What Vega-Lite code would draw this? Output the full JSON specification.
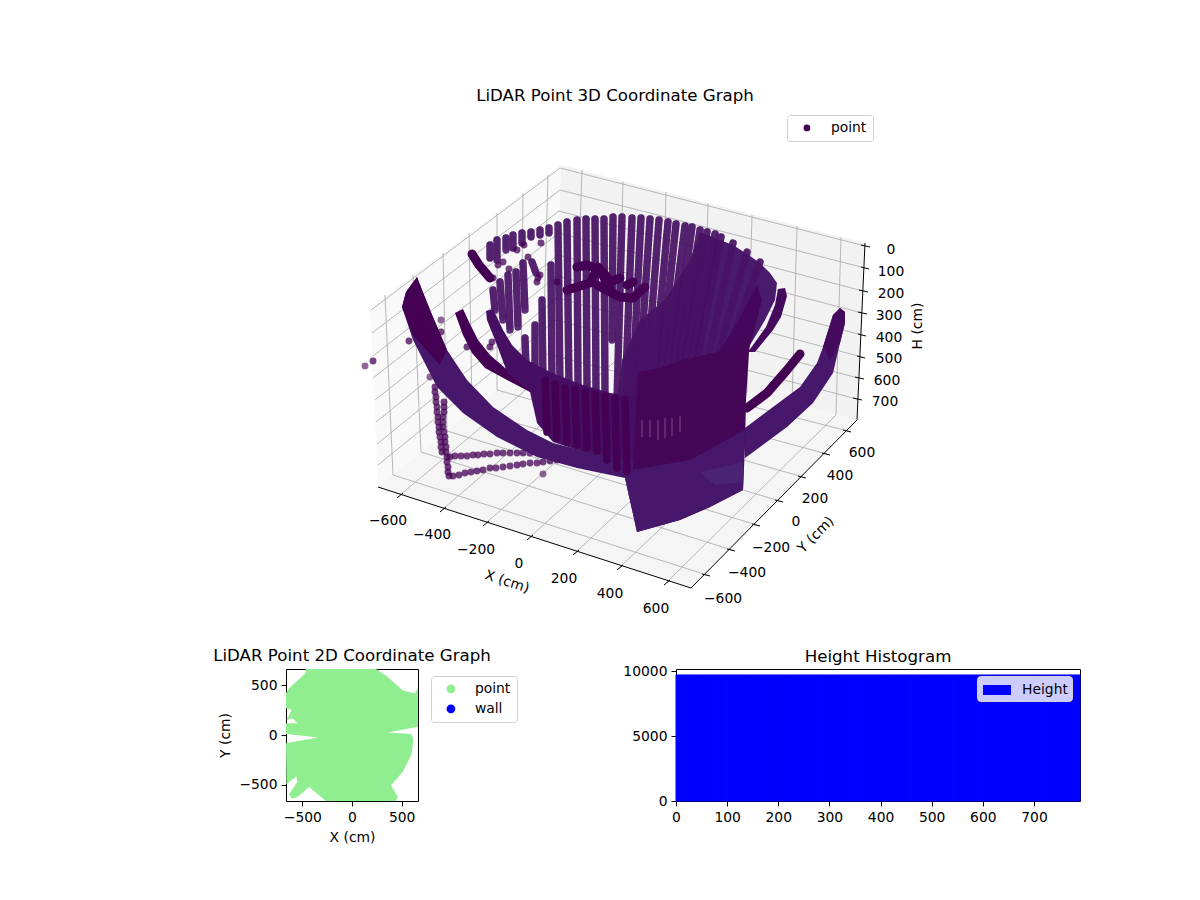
{
  "$schema": "https://vega.github.io/schema/vega-lite/v6.json",
  "background": "white",
  "padding": 0,
  "spacing": 0,
  "bounds": "flush",
  "resolve": {"scale": {"color": "independent", "fill": "independent"}, "legend": {"color": "independent"}},
  "config": {
    "font": "DejaVu Sans",
    "view": {"stroke": null},
    "title": {"font": "DejaVu Sans", "fontSize": 16.67, "fontWeight": "normal", "color": "black"},
    "axis": {"grid": false, "domain": false, "labelFontSize": 13.89, "titleFontSize": 13.89, "titleFontWeight": "normal", "labelColor": "black", "titleColor": "black", "tickColor": "black", "tickSize": 5, "tickWidth": 1, "labelPadding": 4, "labelFlush": false, "labelOverlap": false, "titlePadding": 7},
    "legend": {"labelFontSize": 13.89, "labelColor": "black", "title": null}
  },
  "datasets": {
    "columns": [
      {"c":1,"h":558,"v":225},{"c":1,"h":560,"v":385},{"c":2,"h":567,"v":222},{"c":2,"h":569,"v":388},{"c":3,"h":577,"v":220},{"c":3,"h":578,"v":390},
      {"c":4,"h":586,"v":219},{"c":4,"h":587,"v":392},{"c":5,"h":595,"v":219},{"c":5,"h":596,"v":393},{"c":6,"h":604,"v":219},{"c":6,"h":605,"v":395},
      {"c":7,"h":613,"v":217},{"c":7,"h":612,"v":340},{"c":8,"h":622,"v":217},{"c":8,"h":617,"v":400},{"c":9,"h":632,"v":218},{"c":9,"h":625,"v":400},
      {"c":10,"h":641,"v":218},{"c":10,"h":632,"v":400},{"c":11,"h":650,"v":219},{"c":11,"h":638,"v":400},{"c":12,"h":659,"v":220},{"c":12,"h":645,"v":400},
      {"c":13,"h":668,"v":222},{"c":13,"h":652,"v":400},{"c":14,"h":676,"v":224},{"c":14,"h":658,"v":395},{"c":15,"h":685,"v":226},{"c":15,"h":664,"v":390},
      {"c":16,"h":692,"v":227},{"c":16,"h":670,"v":388},{"c":17,"h":700,"v":230},{"c":17,"h":676,"v":385},{"c":18,"h":707,"v":232},{"c":18,"h":682,"v":382},
      {"c":19,"h":715,"v":234},{"c":19,"h":688,"v":380},{"c":20,"h":721,"v":237},{"c":20,"h":694,"v":378},{"c":21,"h":733,"v":243},{"c":21,"h":705,"v":372},
      {"c":22,"h":747,"v":252},{"c":22,"h":715,"v":365},{"c":23,"h":760,"v":262},{"c":23,"h":725,"v":360},
      {"c":30,"h":490,"v":245},{"c":30,"h":490,"v":258},{"c":31,"h":497,"v":240},{"c":31,"h":497,"v":260},{"c":32,"h":506,"v":238},{"c":32,"h":506,"v":250},
      {"c":33,"h":513,"v":235},{"c":33,"h":513,"v":248},{"c":34,"h":522,"v":233},{"c":34,"h":522,"v":243},{"c":35,"h":531,"v":232},{"c":35,"h":531,"v":237},
      {"c":36,"h":540,"v":230},{"c":36,"h":540,"v":235},{"c":37,"h":549,"v":228},{"c":37,"h":549,"v":233},
      {"c":40,"h":493,"v":290},{"c":40,"h":495,"v":310},{"c":41,"h":500,"v":282},{"c":41,"h":503,"v":320},{"c":42,"h":508,"v":275},{"c":42,"h":510,"v":330},
      {"c":43,"h":516,"v":272},{"c":43,"h":518,"v":327},{"c":44,"h":523,"v":263},{"c":44,"h":525,"v":310},{"c":45,"h":532,"v":262},{"c":45,"h":536,"v":273},
      {"c":46,"h":542,"v":300},{"c":46,"h":543,"v":385},{"c":47,"h":535,"v":325},{"c":47,"h":535,"v":370},{"c":48,"h":525,"v":338},{"c":48,"h":526,"v":365},
      {"c":49,"h":551,"v":265},{"c":49,"h":552,"v":385}
    ]
  },
  "vconcat": [
    {
      "width": 1200,
      "height": 669,
      "encoding": {
        "x": {"field": "h", "type": "quantitative", "axis": null, "scale": {"domain": [0, 1200], "nice": false, "zero": false}},
        "y": {"field": "v", "type": "quantitative", "axis": null, "scale": {"domain": [669, 0], "nice": false, "zero": false}}
      },
      "layer": [
        {
          "data": {"values": [
            {"s":"paneL","h":370,"v":307},{"s":"paneL","h":561,"v":165},{"s":"paneL","h":555,"v":343},{"s":"paneL","h":378,"v":487},
            {"s":"paneB","h":561,"v":165},{"s":"paneB","h":864,"v":243},{"s":"paneB","h":857,"v":420},{"s":"paneB","h":555,"v":343},
            {"s":"floor","h":378,"v":487},{"s":"floor","h":555,"v":343},{"s":"floor","h":857,"v":420},{"s":"floor","h":691,"v":588}
          ]},
          "mark": {"type": "line", "filled": true},
          "encoding": {
            "order": {"value": null},
            "fill": {"field": "s", "type": "nominal", "legend": null, "scale": {"domain": ["paneL","paneB","floor","bowl","A","B","C","D","E","F","G","H","top","low","spot"], "range": ["#f9f9f9","#f2f2f2","#f5f5f5","#4a1b6d","#440154","#470f63","#47176b","#440154","#47176b","#440a5e","#45075c","#440a5e","#450658","#47176b","#4a2373"]}}
          }
        },
        {
          "data": {"values": [
            {"h":400,"v":495,"h2":576,"v2":348},{"h":443,"v":509,"h2":618,"v2":359},{"h":486,"v":523,"h2":661,"v2":370},{"h":530,"v":537,"h2":703,"v2":381},{"h":576,"v":552,"h2":747,"v2":392},{"h":620,"v":567,"h2":792,"v2":404},{"h":667,"v":582,"h2":836,"v2":415},
            {"h":707,"v":575,"h2":393,"v2":475},{"h":732,"v":550,"h2":421,"v2":452},{"h":757,"v":525,"h2":447,"v2":431},{"h":780,"v":501,"h2":472,"v2":410},{"h":803,"v":477,"h2":497,"v2":390},{"h":827,"v":454,"h2":521,"v2":371},{"h":848,"v":431,"h2":543,"v2":353},
            {"h":385,"v":295,"h2":393,"v2":475},{"h":413,"v":275,"h2":421,"v2":452},{"h":443,"v":253,"h2":447,"v2":431},{"h":469,"v":233,"h2":472,"v2":410},{"h":497,"v":213,"h2":497,"v2":390},{"h":523,"v":193,"h2":521,"v2":371},{"h":548,"v":175,"h2":543,"v2":353},
            {"h":582,"v":170,"h2":576,"v2":348},{"h":623,"v":182,"h2":618,"v2":359},{"h":666,"v":192,"h2":661,"v2":370},{"h":708,"v":203,"h2":703,"v2":381},{"h":752,"v":215,"h2":747,"v2":392},{"h":797,"v":226,"h2":792,"v2":404},{"h":841,"v":237,"h2":836,"v2":415},
            {"h":560,"v":168,"h2":865,"v2":246},{"h":560,"v":190,"h2":865,"v2":268},{"h":559,"v":211,"h2":863,"v2":291},{"h":559,"v":233,"h2":862,"v2":313},{"h":558,"v":255,"h2":862,"v2":335},{"h":557,"v":276,"h2":862,"v2":357},{"h":557,"v":298,"h2":858,"v2":378},{"h":556,"v":320,"h2":857,"v2":399},
            {"h":560,"v":168,"h2":371,"v2":310},{"h":560,"v":190,"h2":372,"v2":333},{"h":559,"v":211,"h2":373,"v2":356},{"h":559,"v":233,"h2":373,"v2":378},{"h":558,"v":255,"h2":375,"v2":400},{"h":557,"v":276,"h2":376,"v2":422},{"h":557,"v":298,"h2":377,"v2":444},{"h":556,"v":320,"h2":378,"v2":465}
          ]},
          "mark": {"type": "rule", "color": "#b0b0b0", "strokeWidth": 0.9},
          "encoding": {"x2": {"field": "h2"}, "y2": {"field": "v2"}}
        },
        {
          "data": {"values": [
            {"h":378,"v":487,"h2":691,"v2":588},{"h":691,"v":588,"h2":857,"v2":420},{"h":865,"v":243,"h2":857,"v2":420},
            {"h":397,"v":498,"h2":403,"v2":493},{"h":440,"v":512,"h2":446,"v2":507},{"h":483,"v":526,"h2":489,"v2":521},{"h":527,"v":540,"h2":533,"v2":535},{"h":573,"v":555,"h2":579,"v2":550},{"h":617,"v":570,"h2":623,"v2":565},{"h":664,"v":585,"h2":670,"v2":580},
            {"h":702,"v":574,"h2":710,"v2":576},{"h":727,"v":549,"h2":735,"v2":551},{"h":752,"v":524,"h2":760,"v2":526},{"h":775,"v":500,"h2":783,"v2":502},{"h":798,"v":476,"h2":806,"v2":478},{"h":822,"v":453,"h2":830,"v2":455},{"h":843,"v":430,"h2":851,"v2":432},
            {"h":861,"v":245,"h2":870,"v2":247},{"h":861,"v":267,"h2":869,"v2":269},{"h":859,"v":290,"h2":868,"v2":292},{"h":858,"v":312,"h2":867,"v2":314},{"h":858,"v":334,"h2":866,"v2":336},{"h":857,"v":356,"h2":865,"v2":358},{"h":855,"v":377,"h2":864,"v2":379},{"h":853,"v":398,"h2":862,"v2":400}
          ]},
          "mark": {"type": "rule", "color": "black", "strokeWidth": 1},
          "encoding": {"x2": {"field": "h2"}, "y2": {"field": "v2"}}
        },
        {
          "data": {"values": [
            {"s":"bowl","h":700,"v":232},{"s":"bowl","h":720,"v":240},{"s":"bowl","h":733,"v":245},{"s":"bowl","h":747,"v":254},{"s":"bowl","h":760,"v":263},{"s":"bowl","h":770,"v":273},{"s":"bowl","h":777,"v":283},{"s":"bowl","h":775,"v":300},{"s":"bowl","h":765,"v":320},{"s":"bowl","h":750,"v":345},{"s":"bowl","h":745,"v":375},{"s":"bowl","h":640,"v":405},{"s":"bowl","h":617,"v":400},{"s":"bowl","h":622,"v":360},{"s":"bowl","h":640,"v":320},{"s":"bowl","h":665,"v":300},{"s":"bowl","h":690,"v":260}
          ]},
          "mark": {"type": "line", "filled": true},
          "encoding": {
            "order": {"value": null},
            "fill": {"field": "s", "type": "nominal", "legend": null, "scale": {"domain": ["paneL","paneB","floor","bowl","A","B","C","D","E","F","G","H","top","low","spot"], "range": ["#f9f9f9","#f2f2f2","#f5f5f5","#4a1b6d","#440154","#470f63","#47176b","#440154","#47176b","#440a5e","#45075c","#440a5e","#450658","#47176b","#4a2373"]}}
          }
        },
        {
          "data": {"name": "columns"},
          "mark": {"type": "line", "color": "#4a1b6d", "opacity": 0.9, "strokeWidth": 7.4, "strokeCap": "round"},
          "encoding": {"order": {"value": null}, "detail": {"field": "c"}}
        },
        {
          "data": {"name": "columns"},
          "mark": {"type": "line", "color": "#440154", "opacity": 0.3, "strokeWidth": 7.4, "strokeCap": "round", "strokeDash": [0.01, 4.3]},
          "encoding": {"order": {"value": null}, "detail": {"field": "c"}}
        },
        {
          "data": {"values": [
            {"k":"point","h":373,"v":361},{"k":"point","h":441,"v":332},{"k":"point","h":409,"v":341},{"k":"point","h":492,"v":342},{"k":"point","h":490,"v":347},{"k":"point","h":467,"v":347},
            {"k":"point","h":541,"v":243},{"k":"point","h":517,"v":250},{"k":"point","h":524,"v":245},{"k":"point","h":528,"v":257},{"k":"point","h":503,"v":262},{"k":"point","h":498,"v":265},{"k":"point","h":493,"v":278},{"k":"point","h":509,"v":269},{"k":"point","h":538,"v":278},{"k":"point","h":537,"v":282},{"k":"point","h":540,"v":275},{"k":"point","h":557,"v":282},
            {"k":"point","h":435,"v":387},{"k":"point","h":435,"v":392},{"k":"point","h":436,"v":397},{"k":"point","h":436,"v":402},{"k":"point","h":437,"v":407},{"k":"point","h":437,"v":412},{"k":"point","h":438,"v":417},{"k":"point","h":438,"v":422},{"k":"point","h":439,"v":427},{"k":"point","h":439,"v":432},{"k":"point","h":440,"v":437},{"k":"point","h":441,"v":442},{"k":"point","h":441,"v":447},{"k":"point","h":442,"v":452},
            {"k":"point","h":444,"v":402},{"k":"point","h":444,"v":407},{"k":"point","h":444,"v":412},{"k":"point","h":443,"v":417},{"k":"point","h":443,"v":422},{"k":"point","h":443,"v":427},{"k":"point","h":444,"v":432},{"k":"point","h":445,"v":437},{"k":"point","h":445,"v":442},{"k":"point","h":446,"v":447},{"k":"point","h":446,"v":452},{"k":"point","h":447,"v":457},{"k":"point","h":447,"v":462},{"k":"point","h":448,"v":467},{"k":"point","h":448,"v":472},{"k":"point","h":449,"v":476},
            {"k":"point","h":453,"v":476},{"k":"point","h":459,"v":475},{"k":"point","h":465,"v":473},{"k":"point","h":471,"v":472},{"k":"point","h":477,"v":471},{"k":"point","h":483,"v":470},{"k":"point","h":490,"v":468},{"k":"point","h":496,"v":468},{"k":"point","h":503,"v":467},{"k":"point","h":510,"v":466},{"k":"point","h":517,"v":465},{"k":"point","h":523,"v":464},{"k":"point","h":530,"v":463},{"k":"point","h":537,"v":463},{"k":"point","h":543,"v":462},{"k":"point","h":550,"v":461},{"k":"point","h":557,"v":460},
            {"k":"point","h":450,"v":457},{"k":"point","h":455,"v":456},{"k":"point","h":461,"v":456},{"k":"point","h":467,"v":456},{"k":"point","h":473,"v":455},{"k":"point","h":478,"v":455},{"k":"point","h":484,"v":454},{"k":"point","h":490,"v":454},{"k":"point","h":497,"v":453},{"k":"point","h":503,"v":453},{"k":"point","h":510,"v":453},{"k":"point","h":517,"v":453},{"k":"point","h":523,"v":453},{"k":"point","h":530,"v":453},{"k":"point","h":536,"v":452}
          ]},
          "mark": {"type": "circle", "opacity": 0.75, "size": 48},
          "encoding": {
            "color": {"field": "k", "type": "nominal", "scale": {"domain": ["point"], "range": ["#440154"]},
              "legend": {"orient": "none", "legendX": 787, "legendY": 115, "fillColor": "white", "strokeColor": "#d0d0d0", "cornerRadius": 3, "padding": 6, "symbolSize": 46, "symbolOpacity": 1, "symbolOffset": 7, "labelOffset": 17}}
          }
        },
        {
          "data": {"values": [{"h":365,"v":366},{"h":441,"v":320},{"h":430,"v":377},{"h":543,"v":474}]},
          "mark": {"type": "circle", "color": "#440154", "opacity": 0.6, "size": 48}
        },
        {
          "data": {"values": [
            {"s":"A","h":455,"v":313},{"s":"A","h":463,"v":335},{"s":"A","h":472,"v":353},{"s":"A","h":485,"v":368},{"s":"A","h":507,"v":380},{"s":"A","h":530,"v":392},{"s":"A","h":530,"v":380},{"s":"A","h":505,"v":368},{"s":"A","h":490,"v":355},{"s":"A","h":478,"v":340},{"s":"A","h":469,"v":322},{"s":"A","h":463,"v":309},
            {"s":"B","h":493,"v":309},{"s":"B","h":503,"v":330},{"s":"B","h":512,"v":345},{"s":"B","h":527,"v":360},{"s":"B","h":550,"v":372},{"s":"B","h":580,"v":384},{"s":"B","h":610,"v":393},{"s":"B","h":640,"v":397},{"s":"B","h":640,"v":470},{"s":"B","h":553,"v":442},{"s":"B","h":537,"v":423},{"s":"B","h":530,"v":392},{"s":"B","h":507,"v":372},{"s":"B","h":497,"v":345},{"s":"B","h":487,"v":320},{"s":"B","h":486,"v":311},
            {"s":"C","h":417,"v":277},{"s":"C","h":422,"v":290},{"s":"C","h":430,"v":310},{"s":"C","h":447,"v":350},{"s":"C","h":467,"v":380},{"s":"C","h":493,"v":407},{"s":"C","h":527,"v":430},{"s":"C","h":553,"v":443},{"s":"C","h":600,"v":455},{"s":"C","h":640,"v":462},{"s":"C","h":640,"v":480},{"s":"C","h":625,"v":478},{"s":"C","h":577,"v":468},{"s":"C","h":537,"v":457},{"s":"C","h":497,"v":437},{"s":"C","h":463,"v":413},{"s":"C","h":437,"v":387},{"s":"C","h":413,"v":340},{"s":"C","h":402,"v":307},{"s":"C","h":406,"v":292},
            {"s":"D","h":417,"v":277},{"s":"D","h":422,"v":290},{"s":"D","h":430,"v":310},{"s":"D","h":447,"v":350},{"s":"D","h":440,"v":365},{"s":"D","h":413,"v":335},{"s":"D","h":402,"v":307},{"s":"D","h":406,"v":292},
            {"s":"E","h":840,"v":308},{"s":"E","h":833,"v":315},{"s":"E","h":823,"v":347},{"s":"E","h":817,"v":363},{"s":"E","h":800,"v":387},{"s":"E","h":773,"v":407},{"s":"E","h":745,"v":428},{"s":"E","h":745,"v":458},{"s":"E","h":760,"v":447},{"s":"E","h":787,"v":427},{"s":"E","h":813,"v":403},{"s":"E","h":833,"v":373},{"s":"E","h":840,"v":343},{"s":"E","h":845,"v":323},{"s":"E","h":845,"v":312},
            {"s":"H","h":840,"v":308},{"s":"H","h":833,"v":315},{"s":"H","h":823,"v":347},{"s":"H","h":830,"v":360},{"s":"H","h":840,"v":343},{"s":"H","h":845,"v":323},{"s":"H","h":845,"v":312},
            {"s":"F","h":778,"v":289},{"s":"F","h":785,"v":288},{"s":"F","h":787,"v":296},{"s":"F","h":781,"v":317},{"s":"F","h":773,"v":330},{"s":"F","h":755,"v":352},{"s":"F","h":748,"v":352},{"s":"F","h":766,"v":327},{"s":"F","h":775,"v":305},
            {"s":"G","h":720,"v":350},{"s":"G","h":733,"v":330},{"s":"G","h":757,"v":285},{"s":"G","h":762,"v":300},{"s":"G","h":750,"v":345}
          ]},
          "mark": {"type": "line", "filled": true},
          "encoding": {
            "order": {"value": null},
            "fill": {"field": "s", "type": "nominal", "legend": null, "scale": {"domain": ["paneL","paneB","floor","bowl","A","B","C","D","E","F","G","H","top","low","spot"], "range": ["#f9f9f9","#f2f2f2","#f5f5f5","#4a1b6d","#440154","#470f63","#47176b","#440154","#47176b","#440a5e","#45075c","#440a5e","#450658","#47176b","#4a2373"]}}
          }
        },
        {
          "data": {"values": [
            {"c":1,"h":545,"v":380},{"c":1,"h":547,"v":432},{"c":2,"h":555,"v":384},{"c":2,"h":557,"v":438},{"c":3,"h":565,"v":388},{"c":3,"h":567,"v":442},{"c":4,"h":575,"v":390},{"c":4,"h":577,"v":445},{"c":5,"h":585,"v":392},{"c":5,"h":587,"v":448},{"c":6,"h":595,"v":394},{"c":6,"h":597,"v":451},{"c":7,"h":605,"v":396},{"c":7,"h":607,"v":460},{"c":8,"h":615,"v":398},{"c":8,"h":617,"v":468},{"c":9,"h":625,"v":400},{"c":9,"h":627,"v":472}
          ]},
          "mark": {"type": "line", "color": "#440154", "strokeWidth": 7.5, "strokeCap": "round"},
          "encoding": {"order": {"value": null}, "detail": {"field": "c"}}
        },
        {
          "data": {"values": [
            {"c":10,"h":472,"v":254},{"c":10,"h":479,"v":265},{"c":10,"h":490,"v":278},
            {"c":11,"h":567,"v":290},{"c":11,"h":577,"v":287},{"c":11,"h":590,"v":283},{"c":11,"h":598,"v":267},{"c":11,"h":607,"v":277},{"c":11,"h":610,"v":290},
            {"c":12,"h":577,"v":267},{"c":12,"h":587,"v":265},{"c":12,"h":600,"v":270},{"c":12,"h":607,"v":283},{"c":12,"h":620,"v":278},
            {"c":13,"h":597,"v":285},{"c":13,"h":610,"v":292},{"c":13,"h":620,"v":297},{"c":13,"h":633,"v":298},{"c":13,"h":645,"v":287},
            {"c":14,"h":627,"v":285},{"c":14,"h":633,"v":282},
            {"c":15,"h":800,"v":354},{"c":15,"h":787,"v":370},{"c":15,"h":767,"v":393},{"c":15,"h":747,"v":408}
          ]},
          "mark": {"type": "line", "color": "#440154", "strokeWidth": 9, "strokeCap": "round", "strokeJoin": "round"},
          "encoding": {"order": {"value": null}, "detail": {"field": "c"}}
        },
        {
          "data": {"values": [
            {"s":"top","h":638,"v":372},{"s":"top","h":660,"v":368},{"s":"top","h":683,"v":360},{"s":"top","h":717,"v":352},{"s":"top","h":750,"v":335},{"s":"top","h":746,"v":400},{"s":"top","h":745,"v":445},{"s":"top","h":743,"v":490},{"s":"top","h":710,"v":507},{"s":"top","h":680,"v":520},{"s":"top","h":637,"v":532},{"s":"top","h":625,"v":478},{"s":"top","h":633,"v":470},
            {"s":"low","h":745,"v":430},{"s":"low","h":743,"v":490},{"s":"low","h":710,"v":507},{"s":"low","h":680,"v":520},{"s":"low","h":637,"v":532},{"s":"low","h":625,"v":478},{"s":"low","h":633,"v":470},{"s":"low","h":690,"v":460},
            {"s":"spot","h":700,"v":472},{"s":"spot","h":743,"v":462},{"s":"spot","h":743,"v":482},{"s":"spot","h":715,"v":485}
          ]},
          "mark": {"type": "line", "filled": true},
          "encoding": {
            "order": {"value": null},
            "fill": {"field": "s", "type": "nominal", "legend": null, "scale": {"domain": ["paneL","paneB","floor","bowl","A","B","C","D","E","F","G","H","top","low","spot"], "range": ["#f9f9f9","#f2f2f2","#f5f5f5","#4a1b6d","#440154","#470f63","#47176b","#440154","#47176b","#440a5e","#45075c","#440a5e","#450658","#47176b","#4a2373"]}}
          }
        },
        {
          "data": {"values": [
            {"h":642,"v":420,"h2":642,"v2":437},{"h":650,"v":420,"h2":650,"v2":437},{"h":658,"v":420,"h2":658,"v2":440},{"h":665,"v":418,"h2":665,"v2":438},{"h":672,"v":418,"h2":672,"v2":436},{"h":680,"v":416,"h2":680,"v2":432}
          ]},
          "mark": {"type": "rule", "color": "#ffffff", "opacity": 0.35, "strokeWidth": 0.8},
          "encoding": {"x2": {"field": "h2"}, "y2": {"field": "v2"}}
        },
        {
          "data": {"values": [{"t":"LiDAR Point 3D Coordinate Graph","h":615,"v":95}]},
          "mark": {"type": "text", "fontSize": 16.67, "color": "black", "baseline": "middle", "dy": 1},
          "encoding": {"text": {"field": "t"}}
        },
        {
          "data": {"values": [
            {"t":"−600","h":388,"v":520},{"t":"−400","h":432,"v":534},{"t":"−200","h":476,"v":549},{"t":"0","h":519,"v":563},{"t":"200","h":564,"v":578},{"t":"400","h":610,"v":593},{"t":"600","h":656,"v":608},
            {"t":"−600","h":723,"v":598},{"t":"−400","h":747,"v":572},{"t":"−200","h":771,"v":547},{"t":"0","h":796,"v":521},{"t":"200","h":815,"v":498},{"t":"400","h":840,"v":475},{"t":"600","h":862,"v":452},
            {"t":"0","h":891,"v":249},{"t":"100","h":891,"v":271},{"t":"200","h":891,"v":293},{"t":"300","h":889,"v":315},{"t":"400","h":889,"v":337},{"t":"500","h":889,"v":358},{"t":"600","h":887,"v":380},{"t":"700","h":885,"v":401}
          ]},
          "mark": {"type": "text", "fontSize": 13.89, "color": "black", "baseline": "middle", "dy": 1},
          "encoding": {"text": {"field": "t"}}
        },
        {
          "data": {"values": [{"t":"X (cm)","h":507,"v":582}]},
          "mark": {"type": "text", "fontSize": 13.89, "color": "black", "baseline": "middle", "angle": 18},
          "encoding": {"text": {"field": "t"}}
        },
        {
          "data": {"values": [{"t":"Y (cm)","h":816,"v":535}]},
          "mark": {"type": "text", "fontSize": 13.89, "color": "black", "baseline": "middle", "angle": 315},
          "encoding": {"text": {"field": "t"}}
        },
        {
          "data": {"values": [{"t":"H (cm)","h":918,"v":326}]},
          "mark": {"type": "text", "fontSize": 13.89, "color": "black", "baseline": "middle", "angle": 270},
          "encoding": {"text": {"field": "t"}}
        }
      ]
    },
    {
      "spacing": 0,
      "bounds": "flush",
      "resolve": {"scale": {"color": "independent"}, "legend": {"color": "independent"}},
      "hconcat": [
        {"width": 286, "height": 132, "data": {"values": [{"a": 0}]}, "mark": {"type": "point", "opacity": 0}},
        {
          "width": 132,
          "height": 132,
          "view": {"stroke": "black"},
          "title": {"text": "LiDAR Point 2D Coordinate Graph", "offset": 4},
          "encoding": {
            "x": {"field": "x", "type": "quantitative", "title": "X (cm)", "scale": {"domain": [-664, 664], "nice": false}, "axis": {"values": [-500, 0, 500], "labelExpr": "replace(datum.label,'-','−')"}},
            "y": {"field": "y", "type": "quantitative", "title": "Y (cm)", "scale": {"domain": [-664, 664], "nice": false}, "axis": {"values": [-500, 0, 500], "labelExpr": "replace(datum.label,'-','−')", "titlePadding": 6}}
          },
          "layer": [
            {
              "data": {"values": [
                {"x":-465,"y":663},{"x":242,"y":663},{"x":343,"y":596},{"x":411,"y":539},{"x":512,"y":448},{"x":630,"y":421},{"x":663,"y":471},{"x":663,"y":84},{"x":360,"y":24},{"x":596,"y":10},{"x":620,"y":-50},{"x":596,"y":-202},{"x":579,"y":-236},{"x":545,"y":-303},{"x":512,"y":-370},{"x":394,"y":-505},{"x":461,"y":-623},{"x":444,"y":-664},{"x":-263,"y":-664},{"x":-431,"y":-522},{"x":-549,"y":-623},{"x":-599,"y":-640},{"x":-633,"y":-596},{"x":-549,"y":-471},{"x":-559,"y":-414},{"x":-660,"y":-495},{"x":-664,"y":-84},{"x":-347,"y":-24},{"x":-650,"y":10},{"x":-664,"y":10},{"x":-664,"y":118},{"x":-549,"y":118},{"x":-599,"y":168},{"x":-660,"y":152},{"x":-606,"y":252},{"x":-664,"y":269},{"x":-664,"y":421},{"x":-633,"y":471},{"x":-465,"y":623}
              ]},
              "mark": {"type": "line", "filled": true, "fill": "#90ee90"},
              "encoding": {"order": {"value": null}}
            },
            {
              "data": {"values": [
                {"k":"point","x":-300,"y":400},{"x":0,"y":500,"k":"point"},{"x":300,"y":300,"k":"point"},{"x":-200,"y":-300,"k":"point"},{"x":100,"y":-200,"k":"point"},{"x":300,"y":-300,"k":"point"},{"x":-590,"y":-600,"k":"point"},{"x":500,"y":200,"k":"point"},{"x":-500,"y":-200,"k":"point"},{"x":0,"y":0,"k":"point"}
              ]},
              "mark": {"type": "circle", "size": 50, "opacity": 1},
              "encoding": {
                "color": {"field": "k", "type": "nominal", "scale": {"domain": ["point", "wall"], "range": ["#90ee90", "#0000ff"]},
                  "legend": {"orient": "none", "legendX": 145, "legendY": 7, "fillColor": "white", "strokeColor": "#d0d0d0", "cornerRadius": 3, "padding": 6, "symbolSize": 76, "symbolOpacity": 1, "symbolOffset": 7, "labelOffset": 17, "rowPadding": 5}}
              }
            }
          ]
        },
        {"width": 258, "height": 132, "data": {"values": [{"a": 0}]}, "mark": {"type": "point", "opacity": 0}},
        {
          "width": 404,
          "height": 132,
          "view": {"stroke": "black"},
          "title": {"text": "Height Histogram", "offset": -1},
          "data": {"values": [
            {"s":"Height","a":0,"b":20,"n":9730},{"s":"Height","a":20,"b":40,"n":9730},{"s":"Height","a":40,"b":60,"n":9730},{"s":"Height","a":60,"b":80,"n":9730},{"s":"Height","a":80,"b":100,"n":9730},{"s":"Height","a":100,"b":120,"n":9730},{"s":"Height","a":120,"b":140,"n":9730},{"s":"Height","a":140,"b":160,"n":9730},{"s":"Height","a":160,"b":180,"n":9730},{"s":"Height","a":180,"b":200,"n":9730},
            {"s":"Height","a":200,"b":220,"n":9730},{"s":"Height","a":220,"b":240,"n":9730},{"s":"Height","a":240,"b":260,"n":9730},{"s":"Height","a":260,"b":280,"n":9730},{"s":"Height","a":280,"b":300,"n":9730},{"s":"Height","a":300,"b":320,"n":9730},{"s":"Height","a":320,"b":340,"n":9730},{"s":"Height","a":340,"b":360,"n":9730},{"s":"Height","a":360,"b":380,"n":9730},{"s":"Height","a":380,"b":400,"n":9730},
            {"s":"Height","a":400,"b":420,"n":9730},{"s":"Height","a":420,"b":440,"n":9730},{"s":"Height","a":440,"b":460,"n":9730},{"s":"Height","a":460,"b":480,"n":9730},{"s":"Height","a":480,"b":500,"n":9730},{"s":"Height","a":500,"b":520,"n":9730},{"s":"Height","a":520,"b":540,"n":9730},{"s":"Height","a":540,"b":560,"n":9730},{"s":"Height","a":560,"b":580,"n":9730},{"s":"Height","a":580,"b":600,"n":9730},
            {"s":"Height","a":600,"b":620,"n":9730},{"s":"Height","a":620,"b":640,"n":9730},{"s":"Height","a":640,"b":660,"n":9730},{"s":"Height","a":660,"b":680,"n":9730},{"s":"Height","a":680,"b":700,"n":9730},{"s":"Height","a":700,"b":720,"n":9730},{"s":"Height","a":720,"b":740,"n":9730},{"s":"Height","a":740,"b":760,"n":9730},{"s":"Height","a":760,"b":780,"n":9730},{"s":"Height","a":780,"b":790,"n":9730}
          ]},
          "mark": {"type": "bar", "stroke": "#0000ff", "strokeWidth": 1, "opacity": 1},
          "encoding": {
            "x": {"field": "a", "type": "quantitative", "title": null, "scale": {"domain": [0, 790], "nice": false}, "axis": {"values": [0, 100, 200, 300, 400, 500, 600, 700]}},
            "x2": {"field": "b"},
            "y": {"field": "n", "type": "quantitative", "title": null, "scale": {"domain": [0, 10190], "nice": false}, "axis": {"values": [0, 5000, 10000], "format": "d"}},
            "y2": {"datum": 0},
            "color": {"field": "s", "type": "nominal", "scale": {"domain": ["Height"], "range": ["#0000ff"]},
              "legend": {"orient": "none", "legendX": 301, "legendY": 7, "fillColor": "rgba(255,255,255,0.8)", "strokeColor": "#d0d0d0", "cornerRadius": 3, "padding": 4, "symbolType": "M-1.4,-0.5H1.4V0.5H-1.4Z", "symbolSize": 400, "symbolStrokeWidth": 0, "symbolOffset": 6, "labelOffset": 15}}
          }
        }
      ]
    }
  ]
}
